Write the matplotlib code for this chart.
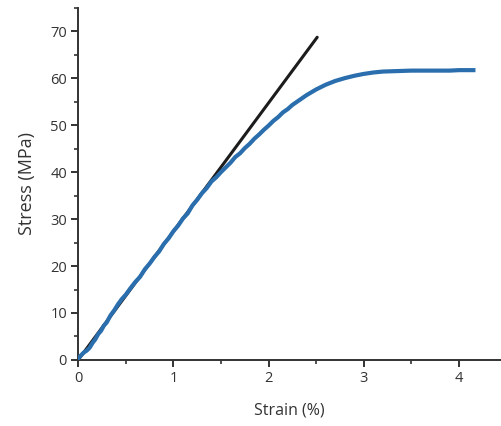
import numpy as np
import matplotlib
matplotlib.use("Agg")
import matplotlib.pyplot as plt
from matplotlib.ticker import MultipleLocator

# measured curve (strain %, stress MPa)
strain = [0.00, 0.03, 0.06, 0.09, 0.12, 0.15, 0.18, 0.21, 0.24, 0.27, 0.30,
          0.34, 0.38, 0.42, 0.46, 0.50, 0.55, 0.60, 0.65, 0.70, 0.75, 0.80,
          0.85, 0.90, 0.95, 1.00, 1.05, 1.10, 1.15, 1.20, 1.25, 1.30, 1.35,
          1.40, 1.45, 1.50, 1.55, 1.60, 1.65, 1.70, 1.75, 1.80, 1.85, 1.90,
          1.95, 2.00, 2.05, 2.10, 2.15, 2.20, 2.25, 2.30, 2.35, 2.40, 2.45,
          2.50, 2.55, 2.60, 2.70, 2.80, 2.90, 3.00, 3.10, 3.20, 3.35, 3.50,
          3.70, 3.90, 4.00, 4.15]
stress = [0.3, 1.0, 1.6, 2.0, 2.6, 3.6, 4.4, 5.5, 6.2, 7.3, 8.0,
          9.5, 10.6, 11.9, 13.0, 13.9, 15.3, 16.6, 17.7, 19.3, 20.5, 21.9,
          23.1, 24.7, 25.9, 27.4, 28.6, 30.1, 31.2, 32.9, 34.1, 35.5, 36.6,
          38.0, 38.9, 40.0, 41.0, 42.0, 43.2, 44.0, 45.1, 46.0, 47.1, 48.0,
          49.0, 49.9, 50.9, 51.7, 52.7, 53.4, 54.3, 55.0, 55.7, 56.4, 57.0,
          57.6, 58.1, 58.6, 59.4, 60.0, 60.5, 60.9, 61.2, 61.4, 61.5, 61.6,
          61.6, 61.6, 61.7, 61.7]

# linear fit (elastic region)
fit_strain = [0.0, 2.51]
fit_stress = [0.0, 68.7]

fig = plt.figure(figsize=(5.01, 4.26), dpi=100)
ax = fig.add_axes([0.156, 0.155, 0.844, 0.827])

ax.plot(fit_strain, fit_stress, color='#1c1c1c', lw=2.2, solid_capstyle='round', zorder=2)
ax.plot(strain, stress, color='#2a6ead', lw=3, zorder=3)

ax.set_xlim(0, 4.44)
ax.set_ylim(0, 75)
ax.xaxis.set_major_locator(MultipleLocator(1))
ax.xaxis.set_minor_locator(MultipleLocator(0.5))
ax.yaxis.set_major_locator(MultipleLocator(10))
ax.yaxis.set_minor_locator(MultipleLocator(5))

for s in ['top', 'right']:
    ax.spines[s].set_visible(False)
for s in ['left', 'bottom']:
    ax.spines[s].set_linewidth(1.4)
    ax.spines[s].set_color('#333333')

ax.tick_params(which='major', direction='out', length=5, width=1.4, color='#333333',
               labelsize=10.5, labelcolor='#333333', pad=3)
ax.tick_params(which='minor', direction='out', length=3, width=1.2, color='#333333')

for lab in ax.get_xticklabels() + ax.get_yticklabels():
    lab.set_family('Open Sans')

ax.set_xlabel('Strain (%)', fontsize=11.5, family='Open Sans', color='#333333', labelpad=12)
ax.set_ylabel('Stress (MPa)', fontsize=13, family='Open Sans', color='#333333', labelpad=10)

fig.savefig('out.png', dpi=100)
